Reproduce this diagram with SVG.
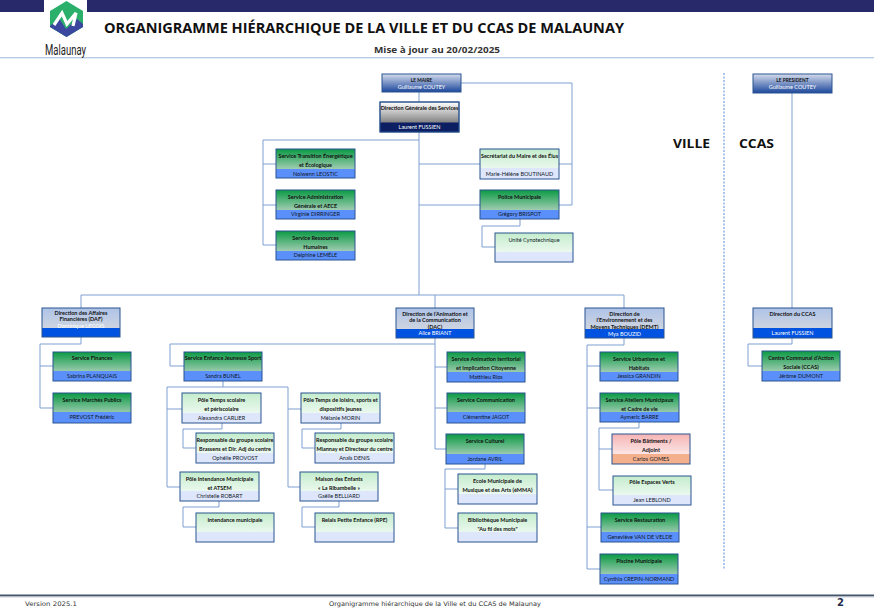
<svg xmlns="http://www.w3.org/2000/svg" width="874" height="616" viewBox="0 0 874 616">
<style>
text{font-family:"Lato","Liberation Sans",sans-serif}
.t{font-size:5.500px;font-weight:700;fill:#111;text-anchor:middle}
.n{font-size:5.500px;fill:#101828;text-anchor:middle}
.w{font-size:5.500px;fill:#fff;text-anchor:middle}
.o{fill:none;stroke:#2a5590;stroke-width:1}
.b{stroke:#2a5590;stroke-width:1}
.c{fill:none;stroke:#7f9fd2;stroke-width:1}
.fs{fill:#5b8ff9}.fd{fill:#0052e0}.fp{fill:#dde6fb}
.h{font-family:"Open Sans","Liberation Sans",sans-serif;font-weight:700;fill:#111}
.sub{fill:#333}
.foot{font-family:"DejaVu Sans",sans-serif;font-size:6.300px;fill:#333}
</style>
<defs>
<linearGradient id="gs" x1="0" y1="0" x2="0" y2="1"><stop offset="0" stop-color="#0b9a44"/><stop offset="1" stop-color="#e2e2e2"/></linearGradient>
<linearGradient id="gd" x1="0" y1="0" x2="0" y2="1"><stop offset="0" stop-color="#aec3e8"/><stop offset="1" stop-color="#dcdcdc"/></linearGradient>
<linearGradient id="gp" x1="0" y1="0" x2="0" y2="1"><stop offset="0" stop-color="#c4eccd"/><stop offset="1" stop-color="#ffffff"/></linearGradient>
<linearGradient id="gr" x1="0" y1="0" x2="0" y2="1"><stop offset="0" stop-color="#f6b3b3"/><stop offset="1" stop-color="#ffffff"/></linearGradient>
<linearGradient id="gm" x1="0" y1="0" x2="0" y2="1"><stop offset="0" stop-color="#d5dcec"/><stop offset="1" stop-color="#1c479c"/></linearGradient>
<linearGradient id="gg" x1="0" y1="0" x2="0" y2="1"><stop offset="0" stop-color="#ffffff"/><stop offset="0.700" stop-color="#808080"/><stop offset="1" stop-color="#808080"/></linearGradient>
</defs>

<g id="header">
<rect x="0" y="0" width="44" height="12" fill="#27296b"/>
<rect x="87" y="0" width="787" height="12" fill="#27296b"/>
<rect x="0" y="57" width="874" height="1.400" fill="#b8cce4"/>
<path d="M66.500 1L83 11V27L66.500 37L50 27V11Z" fill="#2bb06b"/>
<path d="M50 26L59 18L66 29L77 19L83 24V27L66.500 37L50 27Z" fill="#3b479f"/>
<path d="M54 25L62 13L67 24L76 13L73 26" fill="none" stroke="#fff" stroke-width="3.200"/>
<text x="45" y="55" font-size="15" fill="#222" style="font-family:Roboto,sans-serif" textLength="41" lengthAdjust="spacingAndGlyphs">Malaunay</text>
<text class="h" x="104" y="33" font-size="14.500" textLength="520" lengthAdjust="spacingAndGlyphs">ORGANIGRAMME HIÉRARCHIQUE DE LA VILLE ET DU CCAS DE MALAUNAY</text>
<text class="h sub" x="374" y="53" font-size="8.500" textLength="126" lengthAdjust="spacingAndGlyphs">Mise à jour au 20/02/2025</text>
<text class="h" x="673" y="148" font-size="12" textLength="37" lengthAdjust="spacingAndGlyphs">VILLE</text>
<text class="h" x="739" y="148" font-size="12" textLength="35" lengthAdjust="spacingAndGlyphs">CCAS</text>
<line x1="724" y1="73" x2="724" y2="570" stroke="#8fb4e3" stroke-width="1.500" stroke-dasharray="2 1.500"/>
</g>

<g id="connectors">
<path class="c" d="M419 92V102M461 83H572V205H559M572 164H559"/>
<path class="c" d="M419 132V295M263 140H419M263 140V245H276M263 164H276M263 205H276M419 164H480M419 205H480"/>
<path class="c" d="M520 219V226H482V247H495"/>
<path class="c" d="M81 308V295H624V308M435 295V308"/>
<path class="c" d="M81 337V344H40V408H53M40 366H53"/>
<path class="c" d="M435 338V449H446M435 367H447M435 408H447M435 344H170V366H184"/>
<path class="c" d="M223 381V387H167V487H180M167 409H182M223 387H288V487H300M288 409H301"/>
<path class="c" d="M222 423V429H183V448H196M219 501V507H183V527H196M341 423V429H302V448H315M339 501V507H302V527H315"/>
<path class="c" d="M485 464V469H445V528H458M445 489H458"/>
<path class="c" d="M624 338V345H587V569H600M587 366H600M587 408H600M587 527H601"/>
<path class="c" d="M639 422V428H599V490H613M599 449H612"/>
<path class="c" d="M792 93V308M792 338V344H748V366H762"/>
</g>

<g id="maire"><rect class="b" x="382" y="74" width="79" height="18" fill="url(#gm)"/><text class="t" x="421.500" y="82" style="font-size:4.800px">LE MAIRE</text><text class="w" x="421.500" y="89">Guillaume COUTEY</text></g>
<g id="dgs"><rect class="b" x="380" y="102" width="79" height="30" fill="url(#gg)"/><rect x="380" y="122.500" width="79" height="9.500" fill="#0c1f63"/><rect class="o" x="380" y="102" width="79" height="30"/><text class="t" x="419.500" y="110">Direction Générale des Services</text><text class="w" x="419.500" y="128.500">Laurent FUSSIEN</text></g>

<g id="transition"><rect x="276" y="149" width="79" height="29" fill="url(#gs)"/><rect class="fs" x="276" y="169" width="79" height="9"/><rect class="o" x="276" y="149" width="79" height="29"/><text class="t" x="315.500" y="158">Service Transition Énergétique</text><text class="t" x="315.500" y="167">et Écologique</text><text class="n" x="315.500" y="175.500">Nolwenn LEOSTIC</text></g>
<g id="administration"><rect x="276" y="190" width="79" height="29" fill="url(#gs)"/><rect class="fs" x="276" y="210" width="79" height="9"/><rect class="o" x="276" y="190" width="79" height="29"/><text class="t" x="315.500" y="199">Service Administration</text><text class="t" x="315.500" y="207.500">Générale et AECE</text><text class="n" x="315.500" y="216">Virginie DIRRINGER</text></g>
<g id="ressources"><rect x="276" y="231" width="79" height="29" fill="url(#gs)"/><rect class="fs" x="276" y="251" width="79" height="9"/><rect class="o" x="276" y="231" width="79" height="29"/><text class="t" x="315.500" y="239.500">Service Ressources</text><text class="t" x="315.500" y="248.500">Humaines</text><text class="n" x="315.500" y="257">Delphine LEMÊLE</text></g>

<g id="secretariat"><rect x="480" y="149" width="79" height="30" fill="url(#gp)"/><rect class="fp" x="480" y="168" width="79" height="11"/><rect class="o" x="480" y="149" width="79" height="30"/><text class="t" x="519.500" y="158">Secrétariat du Maire et des Élus</text><text class="n" x="519.500" y="175.500">Marie-Hélène BOUTINAUD</text></g>
<g id="police"><rect x="480" y="190" width="79" height="29" fill="url(#gs)"/><rect class="fs" x="480" y="210" width="79" height="9"/><rect class="o" x="480" y="190" width="79" height="29"/><text class="t" x="519.500" y="199">Police Municipale</text><text class="n" x="519.500" y="216">Grégory BRISPOT</text></g>
<g id="cynotechnique"><rect x="495" y="233" width="78" height="29" fill="url(#gp)"/><rect class="fp" x="495" y="252" width="78" height="10"/><rect class="o" x="495" y="233" width="78" height="29"/><text class="n" x="534" y="241.500">Unité  Cynotechnique</text></g>

<g id="daf"><rect x="42" y="308" width="78" height="29" fill="url(#gd)"/><rect class="fd" x="42" y="328" width="78" height="9"/><rect class="o" x="42" y="308" width="78" height="29"/><text class="t" x="81" y="314.800">Direction des Affaires</text><text class="t" x="81" y="321.200">Financières (DAF)</text><text class="w" x="81" y="327.500">Dominique LEGOIS</text></g>
<g id="finances"><rect x="53" y="352" width="78" height="29" fill="url(#gs)"/><rect class="fs" x="53" y="371" width="78" height="10"/><rect class="o" x="53" y="352" width="78" height="29"/><text class="t" x="92" y="360">Service Finances</text><text class="n" x="92" y="377.500">Sabrina PLANQUAIS</text></g>
<g id="marches"><rect x="53" y="393" width="78" height="30" fill="url(#gs)"/><rect class="fs" x="53" y="412" width="78" height="11"/><rect class="o" x="53" y="393" width="78" height="30"/><text class="t" x="92" y="401.800">Service Marchés Publics</text><text class="n" x="92" y="419">PREVOST Frédéric</text></g>

<g id="enfance"><rect x="184" y="352" width="78" height="29" fill="url(#gs)"/><rect class="fs" x="184" y="371" width="78" height="10"/><rect class="o" x="184" y="352" width="78" height="29"/><text class="t" x="223" y="360.300">Service Enfance Jeunesse Sport</text><text class="n" x="223" y="377.800">Sandra BUNEL</text></g>
<g id="pole-scolaire"><rect x="182" y="393" width="79" height="30" fill="url(#gp)"/><rect class="fp" x="182" y="413" width="79" height="10"/><rect class="o" x="182" y="393" width="79" height="30"/><text class="t" x="221.500" y="402">Pôle Temps scolaire</text><text class="t" x="221.500" y="411">et périscolaire</text><text class="n" x="221.500" y="419.800">Alexandra CARLIER</text></g>
<g id="resp-brassens"><rect x="196" y="433" width="78" height="30" fill="url(#gp)"/><rect class="fp" x="196" y="453" width="78" height="10"/><rect class="o" x="196" y="433" width="78" height="30"/><text class="t" x="235" y="441.800">Responsable du groupe scolaire</text><text class="t" x="235" y="450.800">Brassens et Dir. Adj du centre</text><text class="n" x="235" y="459.500">Ophélie PROVOST</text></g>
<g id="pole-intendance"><rect x="180" y="472" width="79" height="29" fill="url(#gp)"/><rect class="fp" x="180" y="491" width="79" height="10"/><rect class="o" x="180" y="472" width="79" height="29"/><text class="t" x="219.500" y="480.500">Pôle Intendance Municipale</text><text class="t" x="219.500" y="489.500">et ATSEM</text><text class="n" x="219.500" y="498">Christelle ROBART</text></g>
<g id="intendance"><rect x="196" y="513" width="78" height="29" fill="url(#gp)"/><rect class="fp" x="196" y="532" width="78" height="10"/><rect class="o" x="196" y="513" width="78" height="29"/><text class="t" x="235" y="521.500">Intendance municipale</text></g>
<g id="pole-loisirs"><rect x="301" y="393" width="79" height="30" fill="url(#gp)"/><rect class="fp" x="301" y="413" width="79" height="10"/><rect class="o" x="301" y="393" width="79" height="30"/><text class="t" x="340.500" y="402">Pôle Temps de loisirs, sports et</text><text class="t" x="340.500" y="411">dispositifs jeunes</text><text class="n" x="340.500" y="419.800">Mélanie MORIN</text></g>
<g id="resp-miannay"><rect x="315" y="433" width="79" height="30" fill="url(#gp)"/><rect class="fp" x="315" y="453" width="79" height="10"/><rect class="o" x="315" y="433" width="79" height="30"/><text class="t" x="354.500" y="441.800">Responsable du groupe scolaire</text><text class="t" x="354.500" y="450.800">Miannay et Directeur du centre</text><text class="n" x="354.500" y="459.500">Anaïs DENIS</text></g>
<g id="maison-enfants"><rect x="300" y="472" width="78" height="29" fill="url(#gp)"/><rect class="fp" x="300" y="491" width="78" height="10"/><rect class="o" x="300" y="472" width="78" height="29"/><text class="t" x="339" y="480.500">Maison des Enfants</text><text class="t" x="339" y="489.500">« La Ribambelle »</text><text class="n" x="339" y="498">Gaëlle BELLIARD</text></g>
<g id="relais"><rect x="315" y="513" width="79" height="29" fill="url(#gp)"/><rect class="fp" x="315" y="532" width="79" height="10"/><rect class="o" x="315" y="513" width="79" height="29"/><text class="t" x="354.500" y="521.500">Relais Petite Enfance (RPE)</text></g>

<g id="dac"><rect x="396" y="308" width="78" height="30" fill="url(#gd)"/><rect class="fd" x="396" y="329" width="78" height="9"/><rect class="o" x="396" y="308" width="78" height="30"/><text class="t" x="435" y="315.500">Direction de l’Animation et</text><text class="t" x="435" y="322">de la Communication</text><text class="t" x="435" y="328.500">(DAC)</text><text class="w" x="435" y="335.200">Alice BRIANT</text></g>
<g id="animation"><rect x="447" y="352" width="78" height="30" fill="url(#gs)"/><rect class="fs" x="447" y="372" width="78" height="10"/><rect class="o" x="447" y="352" width="78" height="30"/><text class="t" x="486" y="360.700">Service Animation territorial</text><text class="t" x="486" y="370">et Implication Citoyenne</text><text class="n" x="486" y="378.500">Matthieu Rios</text></g>
<g id="communication"><rect x="447" y="393" width="78" height="30" fill="url(#gs)"/><rect class="fs" x="447" y="412" width="78" height="11"/><rect class="o" x="447" y="393" width="78" height="30"/><text class="t" x="486" y="401.500">Service Communication</text><text class="n" x="486" y="419">Clémentine JAGOT</text></g>
<g id="culturel"><rect x="446" y="434" width="78" height="30" fill="url(#gs)"/><rect class="fs" x="446" y="454" width="78" height="10"/><rect class="o" x="446" y="434" width="78" height="30"/><text class="t" x="485" y="443">Service Culturel</text><text class="n" x="485" y="460.500">Jordane AVRIL</text></g>
<g id="ecole"><rect x="458" y="474" width="79" height="30" fill="url(#gp)"/><rect class="fp" x="458" y="494" width="79" height="10"/><rect class="o" x="458" y="474" width="79" height="30"/><text class="t" x="497.500" y="482.800">Ecole Municipale de</text><text class="t" x="497.500" y="491.500">Musique et des Arts (éMMA)</text></g>
<g id="bibliotheque"><rect x="458" y="513" width="79" height="29" fill="url(#gp)"/><rect class="fp" x="458" y="532" width="79" height="10"/><rect class="o" x="458" y="513" width="79" height="29"/><text class="t" x="497.500" y="521.500">Bibliothèque Municipale</text><text class="t" x="497.500" y="530.500">"Au fil des mots"</text></g>

<g id="demt"><rect x="585" y="308" width="79" height="30" fill="url(#gd)"/><rect class="fd" x="585" y="329" width="79" height="9"/><rect class="o" x="585" y="308" width="79" height="30"/><text class="t" x="624.500" y="315.800">Direction de</text><text class="t" x="624.500" y="322">l’Environnement et des</text><text class="t" x="624.500" y="328.500">Moyens Techniques (DEMT)</text><text class="w" x="624.500" y="335.800">Mya BOUZID</text></g>
<g id="urbanisme"><rect x="600" y="352" width="78" height="29" fill="url(#gs)"/><rect class="fs" x="600" y="372" width="78" height="9"/><rect class="o" x="600" y="352" width="78" height="29"/><text class="t" x="639" y="360.800">Service Urbanisme et</text><text class="t" x="639" y="369.500">Habitats</text><text class="n" x="639" y="378">Jessica GRANDIN</text></g>
<g id="ateliers"><rect x="600" y="393" width="79" height="29" fill="url(#gs)"/><rect class="fs" x="600" y="412" width="79" height="10"/><rect class="o" x="600" y="393" width="79" height="29"/><text class="t" x="639.500" y="401.500">Service Ateliers Municipaux</text><text class="t" x="639.500" y="410.500">et Cadre de vie</text><text class="n" x="639.500" y="419">Aymeric BARRE</text></g>
<g id="batiments"><rect x="612" y="434" width="78" height="30" fill="url(#gr)"/><rect x="612" y="454" width="78" height="10" fill="#f4b08c"/><rect class="o" x="612" y="434" width="78" height="30"/><text class="t" x="651" y="443">Pôle Bâtiments /</text><text class="t" x="651" y="452">Adjoint</text><text class="n" x="651" y="460.800">Carlos GOMES</text></g>
<g id="espaces-verts"><rect x="613" y="476" width="78" height="29" fill="url(#gp)"/><rect class="fp" x="613" y="495" width="78" height="10"/><rect class="o" x="613" y="476" width="78" height="29"/><text class="t" x="652" y="484">Pôle Espaces Verts</text><text class="n" x="652" y="502">Jean LEBLOND</text></g>
<g id="restauration"><rect x="601" y="513" width="78" height="29" fill="url(#gs)"/><rect class="fs" x="601" y="532" width="78" height="10"/><rect class="o" x="601" y="513" width="78" height="29"/><text class="t" x="640" y="521.500">Service Restauration</text><text class="n" x="640" y="539">Geneviève VAN DE VELDE</text></g>
<g id="piscine"><rect x="600" y="554" width="78" height="30" fill="url(#gs)"/><rect class="fs" x="600" y="574" width="78" height="10"/><rect class="o" x="600" y="554" width="78" height="30"/><text class="t" x="639" y="563">Piscine Municipale</text><text class="n" x="639" y="580.500">Cynthia CREPIN-NORMAND</text></g>

<g id="president"><rect class="b" x="753" y="74" width="79" height="19" fill="url(#gm)"/><text class="t" x="792.500" y="81.500" style="font-size:4.800px">LE PRESIDENT</text><text class="w" x="792.500" y="89">Guillaume COUTEY</text></g>
<g id="dir-ccas"><rect x="753" y="308" width="79" height="30" fill="url(#gd)"/><rect class="fd" x="753" y="328" width="79" height="10"/><rect class="o" x="753" y="308" width="79" height="30"/><text class="t" x="792.500" y="315.500">Direction du CCAS</text><text class="w" x="792.500" y="335">Laurent FUSSIEN</text></g>
<g id="ccas"><rect x="762" y="351" width="78" height="30" fill="url(#gs)"/><rect class="fs" x="762" y="371" width="78" height="10"/><rect class="o" x="762" y="351" width="78" height="30"/><text class="t" x="801" y="360">Centre Communal d’Action</text><text class="t" x="801" y="369">Sociale (CCAS)</text><text class="n" x="801" y="378">Jérôme DUMONT</text></g>

<g id="footer">
<rect x="0" y="594.500" width="874" height="2" fill="#44546a"/>
<rect x="0" y="596.500" width="874" height="1" fill="#c5ced8"/>
<text class="foot" x="25" y="606" textLength="52" lengthAdjust="spacingAndGlyphs">Version 2025.1</text>
<text class="foot" x="329" y="606" textLength="212" lengthAdjust="spacingAndGlyphs">Organigramme hiérarchique de la Ville et du CCAS de Malaunay</text>
<text x="837" y="606" font-size="10" font-weight="700" fill="#1f2d4d" style="font-family:'DejaVu Sans',sans-serif">2</text>
</g>
</svg>
